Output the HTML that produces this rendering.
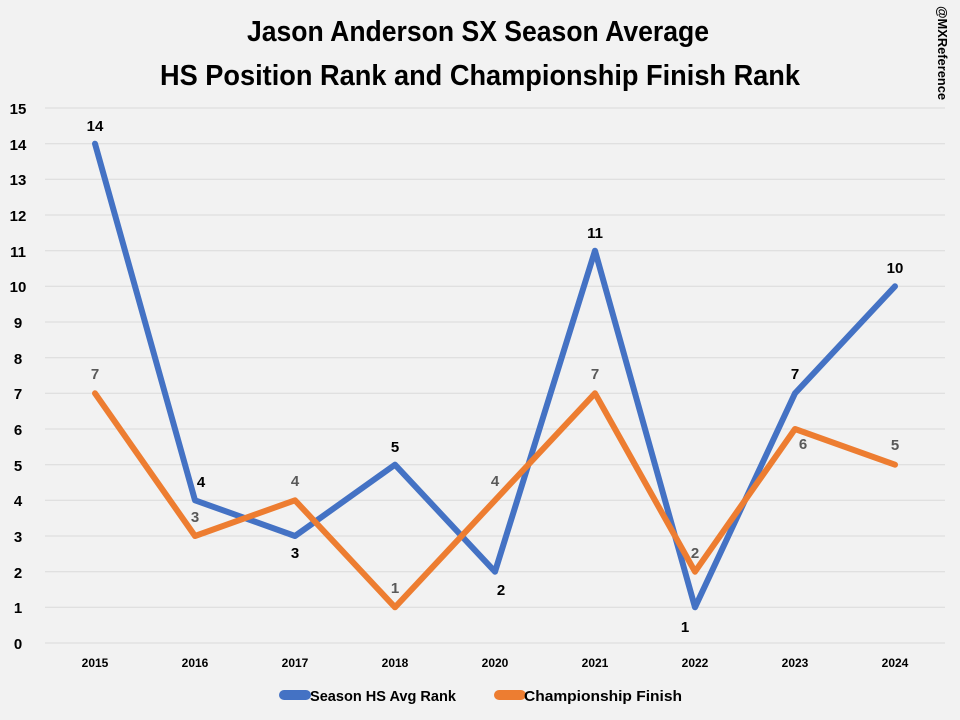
<!DOCTYPE html>
<html><head><style>body{margin:0;background:#f2f2f2}svg{display:block}</style></head><body>
<svg width="960" height="720" xmlns="http://www.w3.org/2000/svg" font-family="Liberation Sans, sans-serif" font-weight="bold">
<rect width="960" height="720" fill="#f2f2f2"/>
<text x="478" y="41" font-size="29" text-anchor="middle" textLength="462" lengthAdjust="spacingAndGlyphs">Jason Anderson SX Season Average</text>
<text x="480" y="85" font-size="29" text-anchor="middle" textLength="640" lengthAdjust="spacingAndGlyphs">HS Position Rank and Championship Finish Rank</text>
<text transform="translate(938,6) rotate(90)" font-size="13" textLength="94" lengthAdjust="spacingAndGlyphs">@MXReference</text>
<g stroke="#d9d9d9" stroke-width="1">
<line x1="45" x2="945" y1="643" y2="643"/><line x1="45" x2="945" y1="607.3" y2="607.3"/><line x1="45" x2="945" y1="571.7" y2="571.7"/><line x1="45" x2="945" y1="536" y2="536"/><line x1="45" x2="945" y1="500.3" y2="500.3"/><line x1="45" x2="945" y1="464.7" y2="464.7"/><line x1="45" x2="945" y1="429" y2="429"/><line x1="45" x2="945" y1="393.3" y2="393.3"/><line x1="45" x2="945" y1="357.7" y2="357.7"/><line x1="45" x2="945" y1="322" y2="322"/><line x1="45" x2="945" y1="286.3" y2="286.3"/><line x1="45" x2="945" y1="250.7" y2="250.7"/><line x1="45" x2="945" y1="215" y2="215"/><line x1="45" x2="945" y1="179.3" y2="179.3"/><line x1="45" x2="945" y1="143.7" y2="143.7"/><line x1="45" x2="945" y1="108" y2="108"/>
</g>
<g font-size="15" fill="#000" text-anchor="middle">
<text x="18" y="649">0</text><text x="18" y="613">1</text><text x="18" y="578">2</text><text x="18" y="542">3</text><text x="18" y="506">4</text><text x="18" y="471">5</text><text x="18" y="435">6</text><text x="18" y="399">7</text><text x="18" y="364">8</text><text x="18" y="328">9</text><text x="18" y="292">10</text><text x="18" y="257">11</text><text x="18" y="221">12</text><text x="18" y="185">13</text><text x="18" y="150">14</text><text x="18" y="114">15</text>
</g>
<g font-size="12" fill="#000" text-anchor="middle">
<text x="95" y="667">2015</text><text x="195" y="667">2016</text><text x="295" y="667">2017</text><text x="395" y="667">2018</text><text x="495" y="667">2020</text><text x="595" y="667">2021</text><text x="695" y="667">2022</text><text x="795" y="667">2023</text><text x="895" y="667">2024</text>
</g>
<polyline fill="none" stroke="#4472c4" stroke-width="6" stroke-linejoin="round" stroke-linecap="round" points="95,143.7 195,500.3 295,536 395,464.7 495,571.7 595,250.7 695,607.3 795,393.3 895,286.3"/>
<polyline fill="none" stroke="#ed7d31" stroke-width="6" stroke-linejoin="round" stroke-linecap="round" points="95,393.3 195,536 295,500.3 395,607.3 495,500.3 595,393.3 695,571.7 795,429 895,464.7"/>
<g font-size="15" fill="#000" text-anchor="middle">
<text x="95" y="131">14</text><text x="201" y="487">4</text><text x="295" y="558">3</text><text x="395" y="452">5</text><text x="501" y="595">2</text><text x="595" y="238">11</text><text x="685" y="632">1</text><text x="795" y="379">7</text><text x="895" y="273">10</text>
</g>
<g font-size="15" fill="#595959" text-anchor="middle">
<text x="95" y="379">7</text><text x="195" y="522">3</text><text x="295" y="486">4</text><text x="395" y="593">1</text><text x="495" y="486">4</text><text x="595" y="379">7</text><text x="695" y="558">2</text><text x="803" y="449">6</text><text x="895" y="450">5</text>
</g>
<rect x="279" y="690" width="32" height="10" rx="5" fill="#4472c4"/>
<text x="310" y="701" font-size="15" textLength="146" lengthAdjust="spacingAndGlyphs">Season HS Avg Rank</text>
<rect x="494" y="690" width="32" height="10" rx="5" fill="#ed7d31"/>
<text x="524" y="701" font-size="15" textLength="158" lengthAdjust="spacingAndGlyphs">Championship Finish</text>
</svg>
</body></html>
